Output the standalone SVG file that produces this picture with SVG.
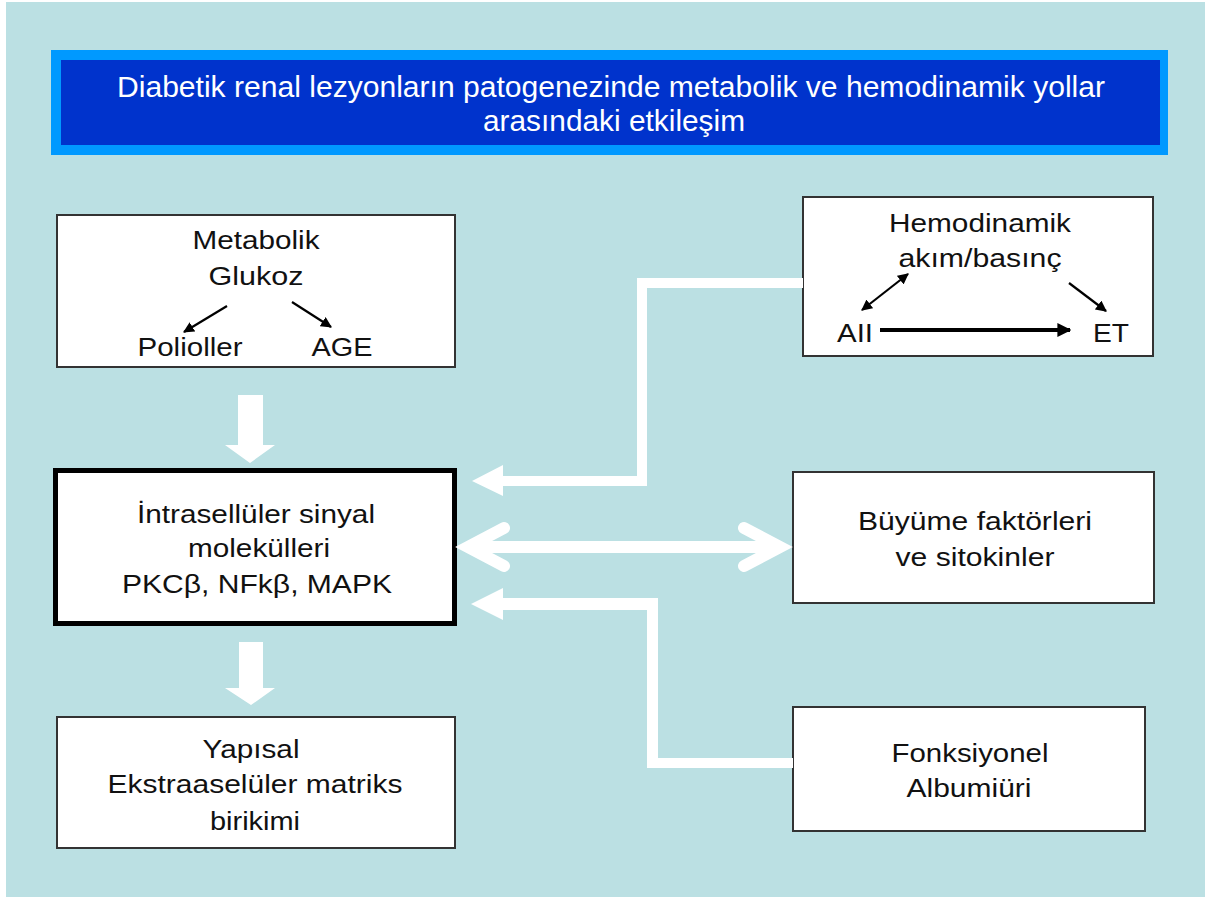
<svg xmlns="http://www.w3.org/2000/svg" width="1205" height="899" viewBox="0 0 1205 899">
<style>
.bg{fill:#BBE0E3}
.box{fill:#FFFFFF;stroke:#333333;stroke-width:2}
.t{font-family:"Liberation Sans",Arial,sans-serif;font-size:25px;fill:#111111;text-anchor:middle}
.title{font-family:"Liberation Sans",Arial,sans-serif;font-size:30px;fill:#FFFFFF;text-anchor:middle}
.thin{stroke:#000;stroke-width:2.2;fill:none}
.wband{fill:#FFFFFF}
</style>
<defs>
<marker id="ah" viewBox="0 0 10 10" refX="9" refY="5" markerWidth="5" markerHeight="5" orient="auto-start-reverse" markerUnits="strokeWidth">
<path d="M0,0 L10,5 L0,10 z" fill="#000"/>
</marker>
<marker id="ahb" viewBox="0 0 10 10" refX="9" refY="5" markerWidth="3.5" markerHeight="3.5" orient="auto" markerUnits="strokeWidth">
<path d="M0,0 L10,5 L0,10 z" fill="#000"/>
</marker>
</defs>
<rect x="0" y="0" width="1205" height="899" fill="#FFFFFF"/>
<rect class="bg" x="6" y="2" width="1199" height="895"/>

<g id="title">
<rect x="51" y="50" width="1117" height="105" fill="#0099FF"/>
<rect x="61" y="60" width="1099" height="85" fill="#0033CC"/>
<text class="title" x="611" y="97" textLength="988" lengthAdjust="spacingAndGlyphs">Diabetik renal lezyonların patogenezinde metabolik ve hemodinamik yollar</text>
<text class="title" x="614" y="131" textLength="262" lengthAdjust="spacingAndGlyphs">arasındaki etkileşim</text>
</g>

<g id="metabolik">
<rect class="box" x="57" y="215" width="398" height="152"/>
<text class="t" x="256" y="249" textLength="127" lengthAdjust="spacingAndGlyphs">Metabolik</text>
<text class="t" x="256" y="285" textLength="95" lengthAdjust="spacingAndGlyphs">Glukoz</text>
<text class="t" x="190" y="356" textLength="105" lengthAdjust="spacingAndGlyphs">Polioller</text>
<text class="t" x="342" y="356" textLength="61" lengthAdjust="spacingAndGlyphs">AGE</text>
<line class="thin" x1="227" y1="306" x2="184" y2="332" marker-end="url(#ah)"/>
<line class="thin" x1="292" y1="302" x2="331" y2="327" marker-end="url(#ah)"/>
</g>

<g id="hemodinamik">
<rect class="box" x="803" y="197" width="350" height="159"/>
<text class="t" x="980" y="232" textLength="182" lengthAdjust="spacingAndGlyphs">Hemodinamik</text>
<text class="t" x="980" y="267" textLength="163" lengthAdjust="spacingAndGlyphs">akım/basınç</text>
<text class="t" x="855" y="342" textLength="36" lengthAdjust="spacingAndGlyphs">AII</text>
<text class="t" x="1111" y="342" textLength="36" lengthAdjust="spacingAndGlyphs">ET</text>
<line class="thin" x1="862" y1="310" x2="908" y2="274" marker-start="url(#ah)" marker-end="url(#ah)"/>
<line class="thin" x1="1069" y1="283" x2="1106" y2="311" marker-end="url(#ah)"/>
<line x1="880" y1="330" x2="1070" y2="330" stroke="#000" stroke-width="4" marker-end="url(#ahb)"/>
</g>

<g id="sinyal">
<rect x="55.5" y="470.5" width="399" height="153" fill="#FFFFFF" stroke="#000000" stroke-width="5"/>
<text class="t" x="256" y="523" textLength="238" lengthAdjust="spacingAndGlyphs">İntrasellüler sinyal</text>
<text class="t" x="259" y="557" textLength="142" lengthAdjust="spacingAndGlyphs">molekülleri</text>
<text class="t" x="257" y="593" textLength="270" lengthAdjust="spacingAndGlyphs">PKCβ, NFkβ, MAPK</text>
</g>

<g id="buyume">
<rect class="box" x="793" y="472" width="361" height="131"/>
<text class="t" x="975" y="530" textLength="234" lengthAdjust="spacingAndGlyphs">Büyüme faktörleri</text>
<text class="t" x="975" y="566" textLength="159" lengthAdjust="spacingAndGlyphs">ve sitokinler</text>
</g>

<g id="yapisal">
<rect class="box" x="57" y="717" width="398" height="131"/>
<text class="t" x="251" y="758" textLength="97" lengthAdjust="spacingAndGlyphs">Yapısal</text>
<text class="t" x="255" y="793" textLength="295" lengthAdjust="spacingAndGlyphs">Ekstraaselüler matriks</text>
<text class="t" x="255" y="830" textLength="90" lengthAdjust="spacingAndGlyphs">birikimi</text>
</g>

<g id="fonksiyonel">
<rect class="box" x="793" y="707" width="352" height="124"/>
<text class="t" x="970" y="762" textLength="157" lengthAdjust="spacingAndGlyphs">Fonksiyonel</text>
<text class="t" x="969" y="797" textLength="125" lengthAdjust="spacingAndGlyphs">Albumiüri</text>
</g>

<g id="connectors">
<polygon class="wband" points="238,395 263,395 263,445 275,445 250,463 225,445 238,445"/>
<polygon class="wband" points="239,642 263,642 263,688 275,688 251,705 225,688 239,688"/>
<polygon class="wband" points="803,278 637,278 637,476 503,476 503,465 472,481 503,496 503,486 647,486 647,288 803,288"/>
<polygon class="wband" points="793,768 647,768 647,610 503,610 503,620 471,604 503,588 503,598 658,598 658,758 793,758"/>
<g stroke="#FFFFFF" stroke-width="12" fill="none" stroke-linecap="round" stroke-linejoin="miter">
<line x1="468" y1="547" x2="780" y2="547" stroke-linecap="butt"/>
<polyline points="504,528 468,547 504,566"/>
<polyline points="744,528 780,547 744,566"/>
</g>
</g>
</svg>
